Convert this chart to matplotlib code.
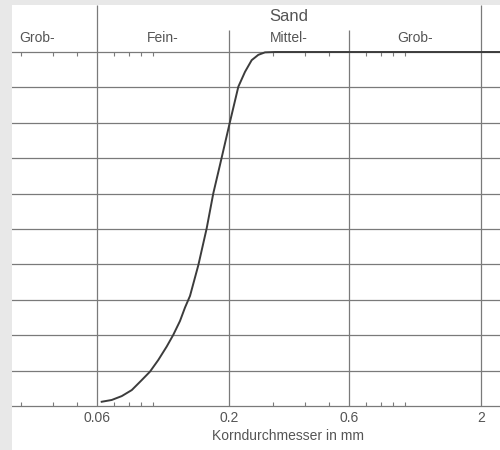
import numpy as np
import matplotlib
matplotlib.use("Agg")
import matplotlib.pyplot as plt

# grain size distribution (Sand)
korn_mm = [0.0626, 0.0686, 0.0752, 0.0824, 0.0902, 0.0973, 0.105, 0.1134,
           0.1204, 0.128, 0.134, 0.1403, 0.1514, 0.1634, 0.1736, 0.1845,
           0.2022, 0.2182, 0.2319, 0.2465, 0.2619, 0.2784, 0.305, 2.4]
durchgang = [1.2, 1.7, 2.8, 4.5, 7.3, 9.7, 13.0, 16.8,
             20.1, 24.0, 27.8, 31.1, 39.8, 50.2, 60.1, 68.1,
             80.3, 90.2, 94.4, 97.7, 99.2, 99.9, 100, 100]

grenzen = [0.02, 0.06, 0.2, 0.6, 2]
fraktionen = ["Grob-", "Fein-", "Mittel-", "Grob-"]
tick_labels = ["0.06", "0.2", "0.6", "2"]
minor_ticks = [0.03, 0.04, 0.05, 0.07, 0.08, 0.09, 0.1,
               0.3, 0.4, 0.5, 0.7, 0.8, 0.9, 1.0]
prozent = np.arange(0, 101, 10)

grid_col = "#7a7a7a"
text_col = "#555555"
plt.rcParams["font.family"] = ["Liberation Sans", "DejaVu Sans"]

fig = plt.figure(figsize=(5, 4.5), dpi=100, facecolor="#e8e8e8")
ax = fig.add_axes([12 / 500, 0, 488 / 500, 445 / 450])
ax.set_facecolor("white")
ax.set_xscale("log")
ax.set_xlim(0.02758, 2.384)
ax.set_ylim(-12.43, 113.28)
for s in ax.spines.values():
    s.set_visible(False)
ax.tick_params(which="both", bottom=False, left=False,
               labelbottom=False, labelleft=False)

# horizontal lines every 10 %
for p in prozent:
    ax.axhline(p, color=grid_col, lw=0.9)

# vertical class boundaries
ax.vlines([0.06, 2], 0, 113.3, color=grid_col, lw=0.9)
ax.vlines([0.2, 0.6], 0, 106.2, color=grid_col, lw=0.9)

# small log ticks on the top and bottom line
ax.vlines(minor_ticks, 0, 1.2, color=grid_col, lw=0.8)
ax.vlines(minor_ticks, 98.8, 100, color=grid_col, lw=0.8)

# curve
ax.plot(korn_mm, durchgang, color="#3c3c3c", lw=1.4)

# tick labels at bottom
for g, lab in zip(grenzen[1:], tick_labels):
    ax.text(g, -3.4, lab, ha="center", va="center", fontsize=10, color=text_col)
ax.text(0.3436, -8.4, "Korndurchmesser in mm", ha="center", va="center",
        fontsize=10, color=text_col)

# fraction labels on top
for i, name in enumerate(fraktionen):
    xm = np.sqrt(grenzen[i] * grenzen[i + 1])
    ax.text(xm, 104.0, name, ha="center", va="center", fontsize=10, color=text_col)
ax.text(np.sqrt(0.2 * 0.6), 109.9, "Sand", ha="center", va="center",
        fontsize=12, color=text_col)

fig.savefig("out.png", dpi=100, facecolor=fig.get_facecolor())
